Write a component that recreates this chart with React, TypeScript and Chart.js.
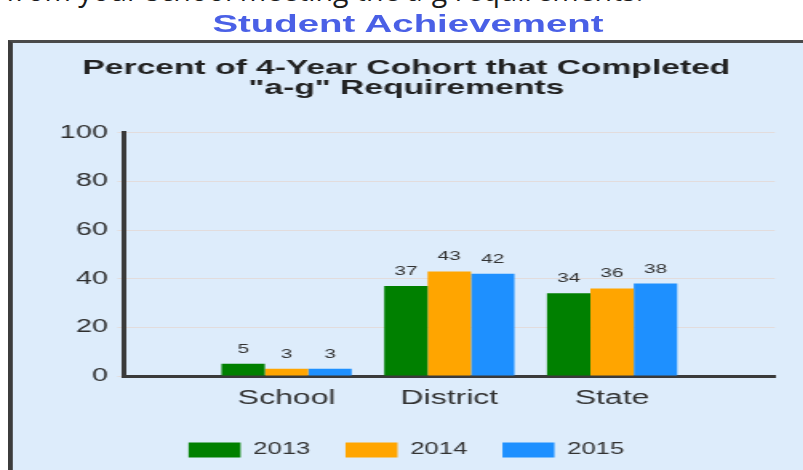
import React, { useEffect, useRef } from 'react';
import { Chart, registerables } from 'chart.js';

Chart.register(...registerables);

// ---- data ----
const categories = ['School', 'District', 'State'];
const seriesNames = ['2013', '2014', '2015'];
const values2013 = [5, 37, 34];
const values2014 = [3, 43, 36];
const values2015 = [3, 42, 38];
const yTicks = [0, 20, 40, 60, 80, 100];
const chartTitle = ['Percent of 4-Year Cohort that Completed', '"a-g" Requirements'];
const pageHeading = 'Student Achievement';
const topText = 'from your school meeting the a-g requirements.';

const seriesColors = ['#008000', '#ffa500', '#1e90ff'];

// the reference is horizontally stretched
const S = 1.6;
const FONT = '"Liberation Sans", Arial, Helvetica, sans-serif';

const valueLabels = {
  id: 'valueLabels',
  afterDatasetsDraw(chart: any) {
    const ctx = chart.ctx;
    ctx.save();
    ctx.font = `13px ${FONT}`;
    ctx.fillStyle = '#333';
    ctx.textAlign = 'center';
    ctx.textBaseline = 'alphabetic';
    chart.data.datasets.forEach((ds: any, i: number) => {
      const meta = chart.getDatasetMeta(i);
      meta.data.forEach((el: any, j: number) => {
        const v = ds.data[j];
        if (v == null) return;
        ctx.fillText(String(v), el.x, el.y - 11);
      });
    });
    ctx.restore();
  },
};

export default function App() {
  const ref = useRef<HTMLCanvasElement | null>(null);

  useEffect(() => {
    if (!ref.current) return;
    const pad = (arr: any[]) => [null, ...arr, null];
    const chart = new Chart(ref.current, {
      type: 'bar',
      data: {
        labels: ['', ...categories, ''],
        datasets: [values2013, values2014, values2015].map((vals, i) => ({
          label: seriesNames[i],
          data: pad(vals),
          backgroundColor: seriesColors[i],
          borderWidth: 0,
          categoryPercentage: 0.8,
          barPercentage: 1.0,
        })),
      },
      options: {
        animation: false,
        responsive: false,
        devicePixelRatio: 1,
        layout: { padding: { left: 15.7, right: 17.7, top: 0, bottom: 2 } },
        font: { family: FONT },
        plugins: {
          title: {
            display: true,
            text: chartTitle,
            color: '#222',
            font: { family: FONT, size: 21, weight: 'bold', lineHeight: 0.97 },
            padding: { top: 15, bottom: 34 },
          },
          legend: {
            position: 'bottom',
            labels: {
              boxWidth: 32.5,
              boxHeight: 15,
              padding: 22,
              color: '#333',
              font: { family: FONT, size: 16 },
            },
          },
          tooltip: { enabled: false },
        },
        scales: {
          x: {
            offset: false,
            grid: { display: false, drawTicks: false },
            border: { color: '#3a3a3a', width: 3 },
            ticks: {
              color: '#333',
              font: { family: FONT, size: 20 },
              padding: 10,
              autoSkip: false,
              maxRotation: 0,
            },
          },
          y: {
            min: 0,
            max: 100,
            afterBuildTicks: (scale: any) => {
              scale.ticks = yTicks.map((v) => ({ value: v }));
            },
            afterFit: (scale: any) => {
              scale.width = 53.7;
            },
            grid: { color: '#e2dcdc', tickLength: 4, lineWidth: 1 },
            border: { color: '#3a3a3a', width: 3 },
            ticks: { color: '#2e2e2e', font: { family: FONT, size: 18 }, padding: 6 },
          },
        },
      } as any,
      plugins: [valueLabels],
    });
    return () => chart.destroy();
  }, []);

  return (
    <div
      style={{
        position: 'fixed',
        left: 0,
        top: 0,
        width: 803,
        height: 470,
        overflow: 'hidden',
        background: '#ffffff',
      }}
    >
      <div
        style={{
          position: 'absolute',
          left: 6,
          top: -29,
          font: '28.5px "Open Sans", "Noto Sans", sans-serif',
          lineHeight: 'normal',
          color: '#1a1a1a',
          whiteSpace: 'nowrap',
        }}
      >
        {topText}
      </div>
      <div
        style={{
          position: 'absolute',
          left: 0,
          top: 0,
          width: 803 / S,
          height: 470,
          transform: `scaleX(${S})`,
          transformOrigin: '0 0',
        }}
      >
        <div
          style={{
            position: 'absolute',
            left: 0,
            top: 12,
            width: 510,
            textAlign: 'center',
            font: `bold 24px ${FONT}`,
            lineHeight: '24px',
            color: '#4a60e6',
            whiteSpace: 'nowrap',
          }}
        >
          {pageHeading}
        </div>
        <div
          style={{
            position: 'absolute',
            left: 5,
            top: 40,
            width: 520,
            height: 440,
            borderLeft: '3px solid #3c3c3c',
            borderTop: '3px solid #4a4a4a',
            background: '#ddecfb',
            boxSizing: 'border-box',
          }}
        >
          <canvas ref={ref} width={494} height={427} style={{ display: 'block' }} />
        </div>
      </div>
    </div>
  );
}
